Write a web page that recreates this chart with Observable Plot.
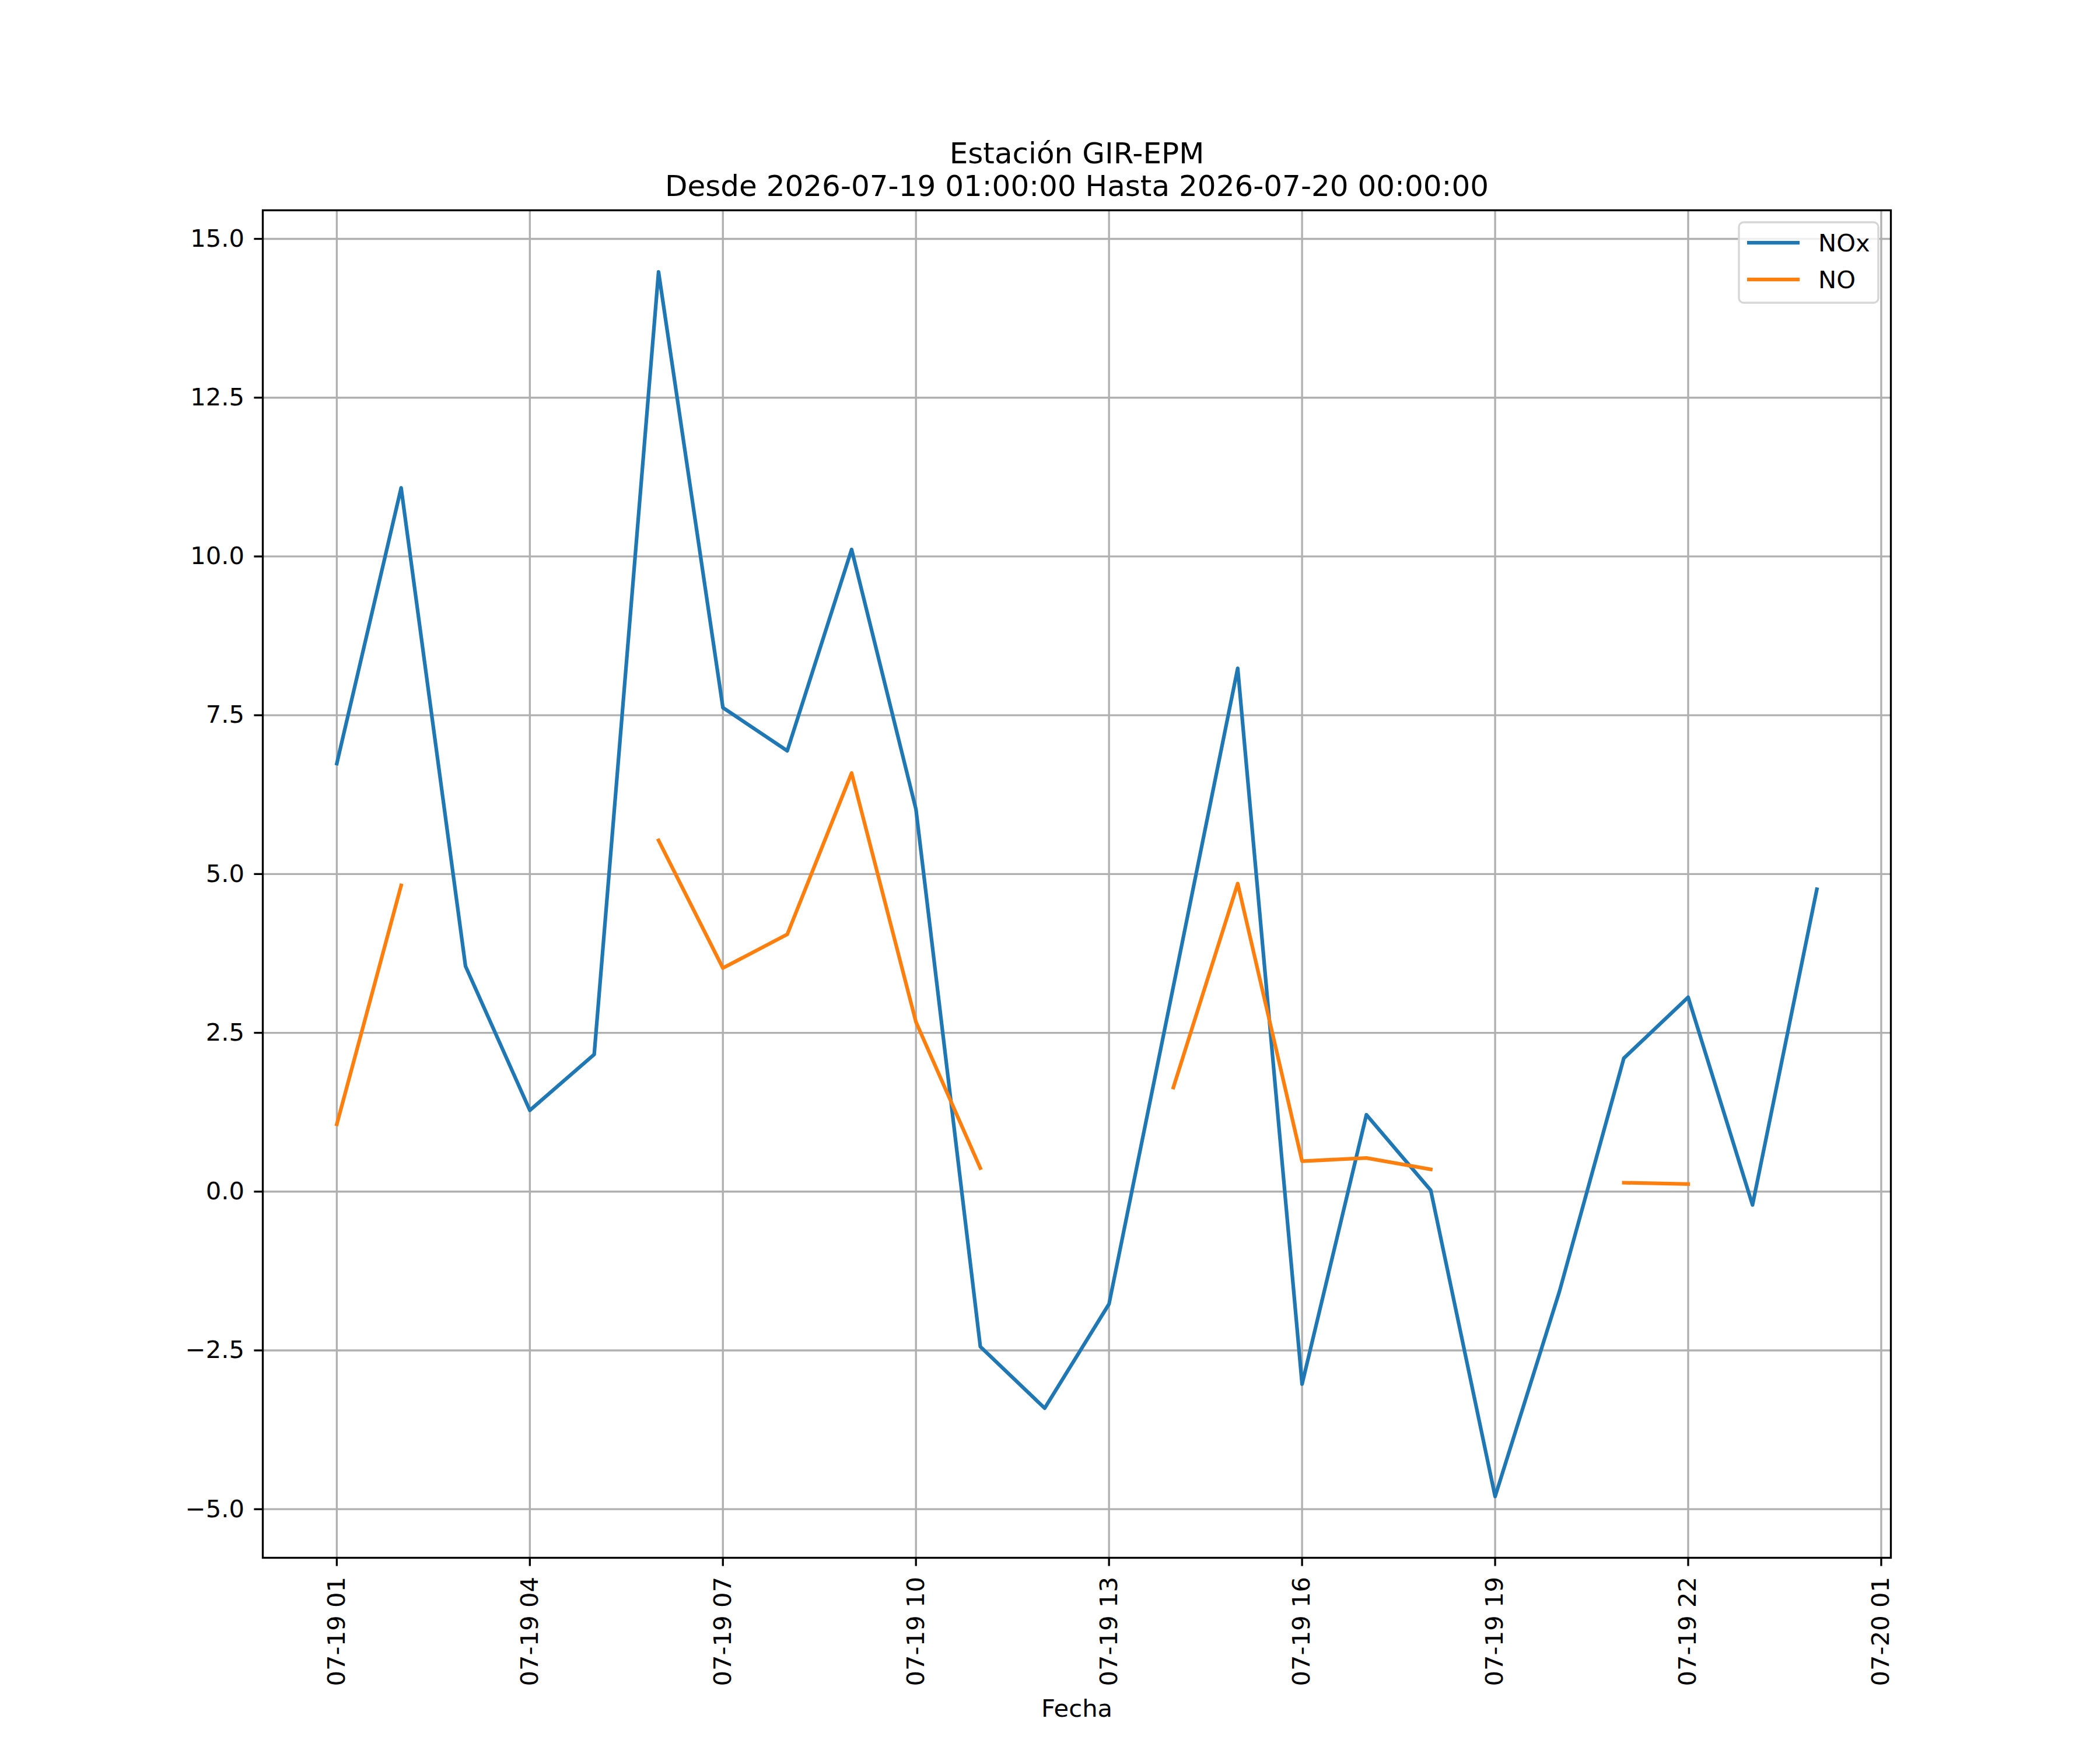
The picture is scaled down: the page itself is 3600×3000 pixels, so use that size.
<!DOCTYPE html>
<html>
<head>
<meta charset="utf-8">
<script src="https://cdn.jsdelivr.net/npm/d3@7"></script>
<script src="https://cdn.jsdelivr.net/npm/@observablehq/plot@0.6"></script>
<style>
  html, body { margin: 0; padding: 0; background: white; }
  svg { display: block; }
</style>
</head>
<body>
<div id="chart"></div>
<script>
// ---- data ----
const times = [
  "2026-07-19T01:00Z","2026-07-19T02:00Z","2026-07-19T03:00Z","2026-07-19T04:00Z",
  "2026-07-19T05:00Z","2026-07-19T06:00Z","2026-07-19T07:00Z","2026-07-19T08:00Z",
  "2026-07-19T09:00Z","2026-07-19T10:00Z","2026-07-19T11:00Z","2026-07-19T12:00Z",
  "2026-07-19T13:00Z","2026-07-19T14:00Z","2026-07-19T15:00Z","2026-07-19T16:00Z",
  "2026-07-19T17:00Z","2026-07-19T18:00Z","2026-07-19T19:00Z","2026-07-19T20:00Z",
  "2026-07-19T21:00Z","2026-07-19T22:00Z","2026-07-19T23:00Z","2026-07-20T00:00Z"
];
const noxValues = [6.74, 11.08, 3.55, 1.28, 2.16, 14.48, 7.62, 6.94, 10.11, 6.02, -2.44, -3.41,
                   -1.77, 3.23, 8.24, -3.03, 1.21, 0.02, -4.80, -1.57, 2.10, 3.06, -0.21, 4.76];
const noValues  = [1.06, 4.82, NaN, NaN, NaN, 5.53, 3.52, 4.05, 6.59, 2.67, 0.37, NaN,
                   NaN, 1.64, 4.85, 0.48, 0.53, 0.35, NaN, NaN, 0.14, 0.12, NaN, NaN];
const seriesNames = ["NOx", "NO"];
const seriesColors = ["#1f77b4", "#ff7f0e"];
const xTickStrings = [
  "2026-07-19T01:00Z","2026-07-19T04:00Z","2026-07-19T07:00Z","2026-07-19T10:00Z",
  "2026-07-19T13:00Z","2026-07-19T16:00Z","2026-07-19T19:00Z","2026-07-19T22:00Z",
  "2026-07-20T01:00Z"
];
const yTicks = [-5, -2.5, 0, 2.5, 5, 7.5, 10, 12.5, 15];
const xDomainStrings = ["2026-07-18T23:51Z", "2026-07-20T01:09Z"];
const yDomain = [-5.765, 15.45];
const titleLines = ["Estación GIR-EPM", "Desde 2026-07-19 01:00:00 Hasta 2026-07-20 00:00:00"];
const xLabel = "Fecha";

// ---- build ----
const parse = s => new Date(s);
const noxData = times.map((t, i) => ({t: parse(t), v: noxValues[i]}));
const noData = times.map((t, i) => ({t: parse(t), v: noValues[i]}));
const xTicks = xTickStrings.map(parse);

const W = 3600, H = 3000;
const mL = 450, mR = 359, mT = 360, mB = 330;
const lw = 3.33;      // 0.8pt at 300dpi
const fs = 41.67;     // 10pt
const gridColor = "#b0b0b0";

const chart = Plot.plot({
  width: W, height: H,
  marginLeft: mL, marginRight: mR, marginTop: mT, marginBottom: mB,
  style: {fontFamily: "'DejaVu Sans', sans-serif", fontSize: fs + "px", background: "white", color: "black", overflow: "visible"},
  x: {type: "utc", domain: xDomainStrings.map(parse)},
  y: {domain: yDomain},
  marks: [
    Plot.gridX(xTicks, {stroke: gridColor, strokeOpacity: 1, strokeWidth: lw}),
    Plot.gridY(yTicks, {stroke: gridColor, strokeOpacity: 1, strokeWidth: lw}),
    Plot.lineY(noxData, {x: "t", y: "v", stroke: seriesColors[0], strokeWidth: 6.25,
      strokeLinecap: "square", strokeLinejoin: "round"}),
    Plot.lineY(noData, {x: "t", y: "v", stroke: seriesColors[1], strokeWidth: 6.25,
      strokeLinecap: "square", strokeLinejoin: "round"}),
    Plot.axisX(xTicks, {tickRotate: -90, tickSize: 14.6, tickPadding: 18, strokeWidth: lw,
      fontSize: fs, textAnchor: "end", lineAnchor: "middle", tickFormat: d3.utcFormat("%m-%d %H"), label: null}),
    Plot.axisY(yTicks, {tickSize: 14.6, tickPadding: 17, strokeWidth: lw, fontSize: fs,
      tickFormat: d3.format(".1f"), label: null}),
    Plot.frame({stroke: "black", strokeWidth: lw}),
    Plot.text([titleLines[0]], {frameAnchor: "top", dy: 279 - mT, lineAnchor: "bottom", fontSize: 50, fill: "black"}),
    Plot.text([titleLines[1]], {frameAnchor: "top", dy: 335 - mT, lineAnchor: "bottom", fontSize: 50, fill: "black"}),
    Plot.text([xLabel], {frameAnchor: "bottom", dy: 2942 - (H - mB), lineAnchor: "bottom", fontSize: fs, fill: "black"})
  ]
});

// ---- legend (layout relative to the frame) ----
const svg = d3.select(chart);
const frameRight = W - mR, frameTop = mT;
const pad = 21;
const boxW = 239, boxH = 138;
const bx = frameRight - pad - boxW, by = frameTop + pad;
const lg = svg.append("g").attr("font-family", "'DejaVu Sans', sans-serif").attr("font-size", fs)
  .attr("text-anchor", "start");
lg.append("rect").attr("x", bx).attr("y", by).attr("width", boxW).attr("height", boxH)
  .attr("rx", 8).attr("ry", 8)
  .attr("fill", "white").attr("fill-opacity", 0.8)
  .attr("stroke", "#d6d6d6").attr("stroke-width", lw);
seriesNames.forEach((name, i) => {
  const cy = by + 35 + i * 63;
  lg.append("line").attr("x1", bx + 14).attr("x2", bx + 104).attr("y1", cy).attr("y2", cy)
    .attr("stroke", seriesColors[i]).attr("stroke-width", 6.25).attr("stroke-linecap", "butt");
  lg.append("text").attr("x", bx + 136).attr("y", cy + 14.5).attr("fill", "black")
    .attr("text-anchor", "start").text(name);
});

document.getElementById("chart").appendChild(chart);
</script>
</body>
</html>
